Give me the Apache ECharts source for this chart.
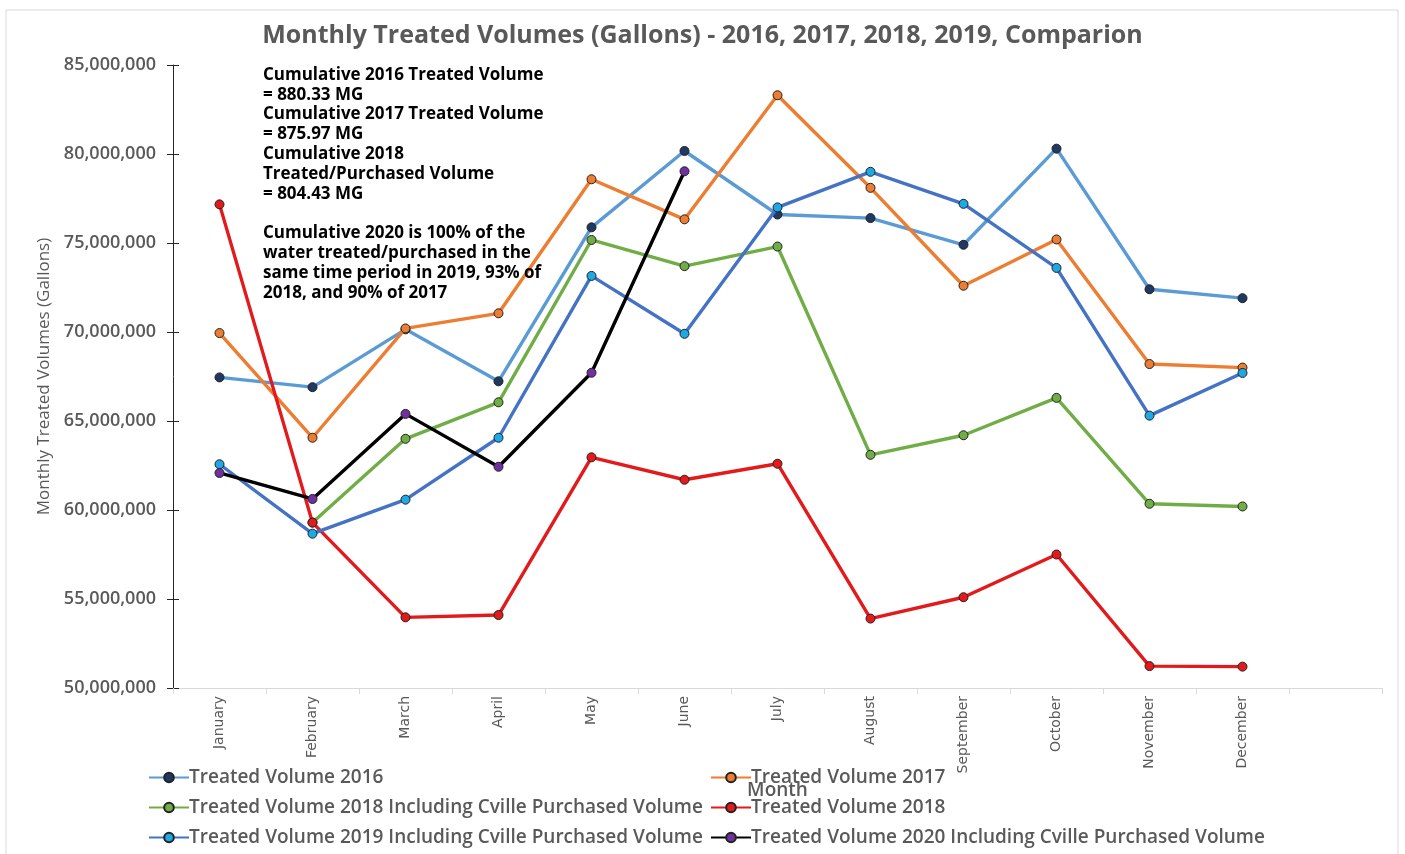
<!DOCTYPE html>
<html>
<head>
<meta charset="utf-8">
<script src="https://cdn.jsdelivr.net/npm/echarts@6/dist/echarts.min.js"></script>
<style>html,body{margin:0;padding:0;background:#fff;}#c{width:1405px;height:854px;}</style>
</head>
<body>
<div id="c"></div>
<script>
const months = ['January','February','March','April','May','June','July','August','September','October','November','December',''];
const yTicks = [50000000, 85000000, 5000000];
const v2016 = [67.45, 66.9, 70.15, 67.23, 75.88, 80.17, 76.6, 76.4, 74.9, 80.3, 72.4, 71.9];
const v2017 = [69.94, 64.06, 70.2, 71.05, 78.58, 76.33, 83.3, 78.1, 72.6, 75.2, 68.2, 68.0];
const v2018incl = [null, 59.3, 64.0, 66.05, 75.17, 73.7, 74.8, 63.1, 64.2, 66.3, 60.35, 60.2];
const v2018 = [77.17, 59.29, 53.97, 54.1, 62.96, 61.7, 62.6, 53.9, 55.1, 57.5, 51.23, 51.2];
const v2019incl = [62.57, 58.67, 60.58, 64.06, 73.15, 69.9, 77.0, 79.0, 77.2, 73.6, 65.3, 67.7];
const v2020incl = [62.08, 60.62, 65.4, 62.43, 67.71, 79.03];
const seriesNames = ['Treated Volume 2016','Treated Volume 2017','Treated Volume 2018 Including Cville Purchased Volume','Treated Volume 2018','Treated Volume 2019 Including Cville Purchased Volume','Treated Volume 2020 Including Cville Purchased Volume'];
const noteText = 'Cumulative 2016 Treated Volume\n= 880.33 MG\nCumulative 2017 Treated Volume\n= 875.97 MG\nCumulative 2018\nTreated/Purchased Volume\n= 804.43 MG\n\nCumulative 2020 is 100% of the\nwater treated/purchased in the\nsame time period in 2019, 93% of\n2018, and 90% of 2017';
const titleText = 'Monthly Treated Volumes (Gallons) - 2016, 2017, 2018, 2019, Comparion';

const toGal = a => a.map(v => v == null ? null : Math.round(v * 1e6));
const lineColors = ['#5B9BD5','#ED7D31','#70AD47','#E31A1C','#4472C4','#000000'];
const markColors = ['#1F3864','#ED7D31','#70AD47','#E31A1C','#1CA9E6','#7030A0'];
const datas = [v2016, v2017, v2018incl, v2018, v2019incl, v2020incl];

const chart = echarts.init(document.getElementById('c'));
const FONT = '"Open Sans", sans-serif';

const series = datas.map((d, i) => ({
  name: seriesNames[i],
  type: 'line',
  data: toGal(d),
  yAxisIndex: 0,
  symbol: 'circle',
  symbolSize: 9,
  connectNulls: false,
  lineStyle: { color: lineColors[i], width: 3.4 },
  itemStyle: { color: markColors[i], borderColor: '#222', borderWidth: 1 },
  emphasis: { disabled: true },
  z: 2 + i
}));

const legendPos = [[148,768],[710,768],[148,798],[710,798],[148,828],[710,828]];
const legends = seriesNames.map((n, i) => ({
  data: [n],
  left: legendPos[i][0],
  top: legendPos[i][1],
  itemWidth: 40,
  itemHeight: 12,
  itemGap: 0,
  padding: 0,
  textStyle: { fontFamily: FONT, fontSize: 19, fontWeight: 600, color: '#595959', padding: [0,0,0,-5] },
  selectedMode: false
}));

const yBase = {
  type: 'value',
  min: yTicks[0],
  max: yTicks[1],
  interval: yTicks[2],
  position: 'left',
  splitLine: { show: false }
};

chart.setOption({
  animation: false,
  backgroundColor: '#fff',
  title: {
    text: titleText,
    left: 'center',
    top: 18,
    textStyle: { fontFamily: FONT, fontSize: 25, fontWeight: 'bold', color: '#595959' }
  },
  legend: legends,
  grid: { left: 173, right: 23, top: 65, bottom: 166, containLabel: false },
  xAxis: {
    type: 'category',
    data: months,
    boundaryGap: true,
    name: 'Month',
    nameLocation: 'middle',
    nameGap: 90,
    nameTextStyle: { fontFamily: FONT, fontSize: 19, fontWeight: 600, color: '#595959' },
    axisLine: { lineStyle: { color: '#D9D9D9', width: 1 } },
    axisTick: { show: true, alignWithLabel: false, length: 6, lineStyle: { color: '#D9D9D9' } },
    axisLabel: { interval: 0, rotate: 90, margin: 8, fontFamily: '"DejaVu Sans", sans-serif', fontSize: 14, color: '#595959' },
    splitLine: { show: false }
  },
  yAxis: [
    Object.assign({}, yBase, {
      name: 'Monthly Treated Volumes (Gallons)',
      nameLocation: 'middle',
      nameGap: 120,
      nameTextStyle: { fontFamily: FONT, fontSize: 17, color: '#595959' },
      axisLine: { show: true, lineStyle: { color: '#262626', width: 1 } },
      axisTick: { show: true, length: 6, lineStyle: { color: '#262626' } },
      axisLabel: {
        fontFamily: FONT, fontSize: 18, fontWeight: 600, color: '#595959', margin: 17,
        formatter: v => v.toLocaleString('en-US')
      }
    }),
    Object.assign({}, yBase, {
      axisLine: { show: false },
      axisTick: { show: true, inside: true, length: 6, lineStyle: { color: '#262626' } },
      axisLabel: { show: false }
    })
  ],
  graphic: [
    { type: 'rect', shape: { x: 6, y: 10, width: 1392, height: 850 }, style: { fill: 'none', stroke: '#D9D9D9', lineWidth: 1 }, silent: true, z: -1 },
    { type: 'text', left: 263, top: 65, style: { text: noteText, fontFamily: FONT, fontSize: 17, fontWeight: 'bold', fill: '#000', lineHeight: 19.8 }, z: 100 }
  ],
  series: series
});
</script>
</body>
</html>
